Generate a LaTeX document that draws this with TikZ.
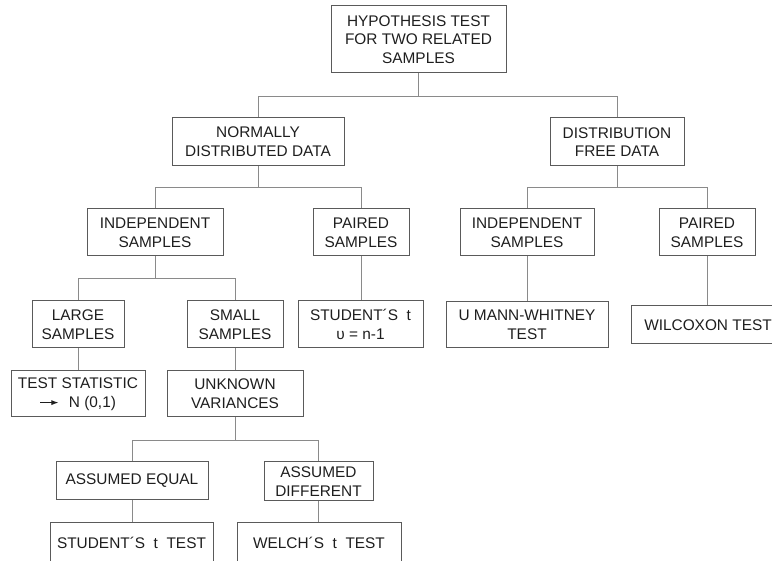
\documentclass[tikz,border=0pt]{standalone}
\usepackage{fontspec}
\setmainfont{Liberation Sans}
\usetikzlibrary{arrows.meta}
\definecolor{txt}{HTML}{1E1E1E}
\definecolor{boxc}{HTML}{5A5A5A}
\definecolor{linec}{HTML}{8A8A8A}
\tikzset{
  box/.style={draw=boxc, line width=1pt, rectangle, inner sep=0pt, align=center,
    text=txt, font=\fontsize{15.4}{18.6}\selectfont},
  conn/.style={draw=linec, line width=1pt}
}
\begin{document}
\begin{tikzpicture}[x=1pt,y=-1pt]
\useasboundingbox (0,0) rectangle (772,561);
\clip (0,0) rectangle (772,561);
% level 0
\node[box, minimum width=175, minimum height=67] (top) at (418.5,39.5) {HYPOTHESIS TEST\\FOR TWO RELATED\\SAMPLES};
% level 1
\node[box, minimum width=172, minimum height=48] (normal) at (258,142) {NORMALLY\\DISTRIBUTED DATA};
\node[box, minimum width=134, minimum height=48] (dfd) at (617,142) {DISTRIBUTION\\FREE DATA};
% level 2
\node[box, minimum width=136, minimum height=47] (indep1) at (155,232.5) {INDEPENDENT\\SAMPLES};
\node[box, minimum width=96, minimum height=47] (paired1) at (361,232.5) {PAIRED\\SAMPLES};
\node[box, minimum width=134, minimum height=47] (indep2) at (527,232.5) {INDEPENDENT\\SAMPLES};
\node[box, minimum width=96, minimum height=47] (paired2) at (707,232.5) {PAIRED\\SAMPLES};
% level 3
\node[box, minimum width=92, minimum height=47] (large) at (78,324.5) {LARGE\\SAMPLES};
\node[box, minimum width=96, minimum height=47] (small) at (235,324.5) {SMALL\\SAMPLES};
\node[box, minimum width=125, minimum height=47] (student1) at (360.5,324.5) {STUDENT´S\ \ t\\υ = n-1};
\node[box, minimum width=162, minimum height=46] (umann) at (527,325) {U MANN-WHITNEY\\TEST};
\node[box, minimum width=154, minimum height=38] (wilcoxon) at (708,325) {WILCOXON TEST};
% level 4
\node[box, minimum width=134, minimum height=46] (teststat) at (78,394) {TEST STATISTIC\\\tikz[baseline=-0.55ex]\draw[line width=0.9pt,-{Latex[length=7pt,width=5pt]}] (0pt,0pt)--(18pt,0pt);\hspace{10pt}N (0,1)};
\node[box, minimum width=136, minimum height=46] (unknown) at (235,394) {UNKNOWN\\VARIANCES};
% level 5
\node[box, minimum width=152, minimum height=38] (aeq) at (132,481) {ASSUMED EQUAL};
\node[box, minimum width=109, minimum height=39] (adiff) at (318.5,481.5) {ASSUMED\\DIFFERENT};
% level 6
\node[box, minimum width=163, minimum height=40] (student2) at (131.5,543) {STUDENT´S\ \ t\ \ TEST};
\node[box, minimum width=164, minimum height=40] (welch) at (319,543) {WELCH´S\ \ t\ \ TEST};
% connectors
\draw[conn] (top.south) -- ++(0,23) -| (normal.north);
\draw[conn] (top.south) ++(0,23) -| (dfd.north);
\draw[conn] (normal.south) -- ++(0,21) -| (indep1.north);
\draw[conn] (normal.south) ++(0,21) -| (paired1.north);
\draw[conn] (dfd.south) -- ++(0,21) -| (indep2.north);
\draw[conn] (dfd.south) ++(0,21) -| (paired2.north);
\draw[conn] (indep1.south) -- ++(0,22) -| (large.north);
\draw[conn] (indep1.south) ++(0,22) -| (small.north);
\draw[conn] (paired1.south) -- (paired1.south |- student1.north);
\draw[conn] (indep2.south) -- (indep2.south |- umann.north);
\draw[conn] (paired2.south) -- (paired2.south |- wilcoxon.north);
\draw[conn] (large.south) -- (large.south |- teststat.north);
\draw[conn] (small.south) -- (small.south |- unknown.north);
\draw[conn] (unknown.south) -- ++(0,23) -| (aeq.north);
\draw[conn] (unknown.south) ++(0,23) -| (adiff.north);
\draw[conn] (aeq.south) -- (aeq.south |- student2.north);
\draw[conn] (adiff.south) -- (adiff.south |- welch.north);
\end{tikzpicture}
\end{document}
